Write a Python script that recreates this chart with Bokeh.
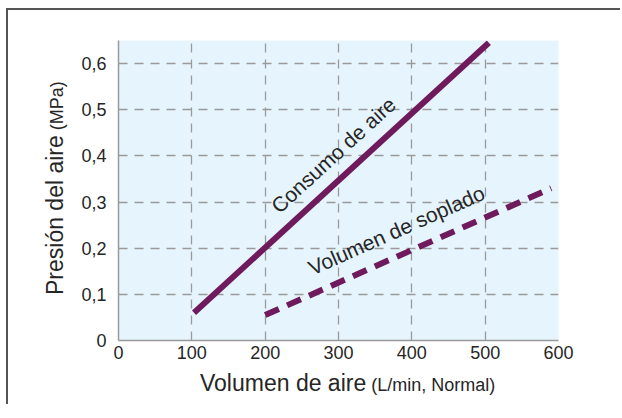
import math
from bokeh.plotting import figure
from bokeh.models import Range1d, FixedTicker, Div
from bokeh.layouts import row, column
from bokeh.core.properties import value
from bokeh.embed import file_html
from bokeh.resources import INLINE

# ---- data ----
x_ticks = [0, 100, 200, 300, 400, 500, 600]
x_tick_labels = ["0", "100", "200", "300", "400", "500", "600"]
y_ticks = [0, 0.1, 0.2, 0.3, 0.4, 0.5, 0.6]
y_tick_labels = ["0", "0,1", "0,2", "0,3", "0,4", "0,5", "0,6"]

consumo_x = [103, 505]
consumo_y = [0.06, 0.645]
soplado_x = [200, 590]
soplado_y = [0.055, 0.33]

series_names = ["Consumo de aire", "Volumen de soplado"]
series_label_x = [293, 379]
series_label_y = [0.402, 0.239]

x_title = "Volumen de aire"
x_unit = "(L/min, Normal)"
y_title = "Presión del aire"
y_unit = "(MPa)"

FONT = "Liberation Sans"
PURPLE = "#6e1a5c"
TXT = "#262626"
X0, X1 = 0, 600
Y0, Y1 = 0, 0.65
FW, FH = 440, 300

p = figure(output_backend="svg", toolbar_location=None,
           frame_width=FW, frame_height=FH,
           min_border_left=50, min_border_right=62,
           min_border_top=30, min_border_bottom=30,
           x_range=Range1d(X0, X1), y_range=Range1d(Y0, Y1), margin=0)

p.background_fill_color = "#e6f5fd"
p.border_fill_color = "white"
p.outline_line_color = None

# axes
for ax in (p.xaxis[0], p.yaxis[0]):
    ax.axis_line_color = "#9a9a9a"
    ax.axis_line_width = 1.5
    ax.major_tick_line_color = None
    ax.minor_tick_line_color = None
    ax.major_tick_out = 0
    ax.major_tick_in = 0
    ax.major_label_text_font = FONT
    ax.major_label_text_font_size = "18px"
    ax.major_label_text_color = TXT

p.xaxis.ticker = FixedTicker(ticks=x_ticks)
p.xaxis.major_label_overrides = {t: l for t, l in zip(x_ticks, x_tick_labels)}
p.xaxis.major_label_standoff = 5
p.yaxis.ticker = FixedTicker(ticks=y_ticks)
p.yaxis.major_label_overrides = {t: l for t, l in zip(y_ticks, y_tick_labels)}
p.yaxis.major_label_standoff = 12

# grid
p.xgrid.ticker = FixedTicker(ticks=x_ticks[1:-1])
p.ygrid.ticker = FixedTicker(ticks=y_ticks[1:])
for g in (p.xgrid[0], p.ygrid[0]):
    g.grid_line_color = "#9a9a9a"
    g.grid_line_width = 1.3
    g.grid_line_dash = "9 7"

# lines
p.line(consumo_x, consumo_y, line_color=PURPLE, line_width=6)
p.line(soplado_x, soplado_y, line_color=PURPLE, line_width=6, line_dash="15 9")

# series labels, parallel to lines
sx = FW / (X1 - X0)
sy = FH / (Y1 - Y0)
def ang(xs, ys):
    return math.atan2((ys[1] - ys[0]) * sy, (xs[1] - xs[0]) * sx)
angles = [ang(consumo_x, consumo_y), ang(soplado_x, soplado_y)]
p.text(x=series_label_x, y=series_label_y, text=series_names, angle=angles,
       text_font=value(FONT), text_font_size="21px", text_color=TXT,
       text_align="center", text_baseline="middle")

# axis titles as HTML (two font sizes on one baseline)
base_css = f"white-space:nowrap; line-height:23px; font-family:'{FONT}'; color:{TXT}; margin:0;"
def title_html(main, unit):
    return (f'<span style="font-size:23px">{main}</span>'
            f'<span style="font-size:18px"> {unit}</span>')

ydiv = Div(width=60, height=360, margin=0, styles={"overflow": "hidden"},
           text=(f'<div style="{base_css} width:300px; transform-origin:0 0; '
                 f'transform:translate(35.5px,285px) rotate(-90deg);">'
                 f'{title_html(y_title, y_unit)}</div>'))
xdiv = Div(width=612, height=34, margin=0, styles={"overflow": "hidden"},
           text=(f'<div style="{base_css} padding-left:192px; padding-top:1.5px;">'
                 f'{title_html(x_title, x_unit)}</div>'))

layout = column(row(ydiv, p, spacing=0, margin=0), xdiv, spacing=0)
layout.styles = {"margin-left": "6px", "margin-top": "8px", "overflow": "hidden",
                 "border-left": "2px solid #555555",
                 "border-top": "2px solid #555555"}

open("out.html", "w").write(file_html(layout, INLINE))
